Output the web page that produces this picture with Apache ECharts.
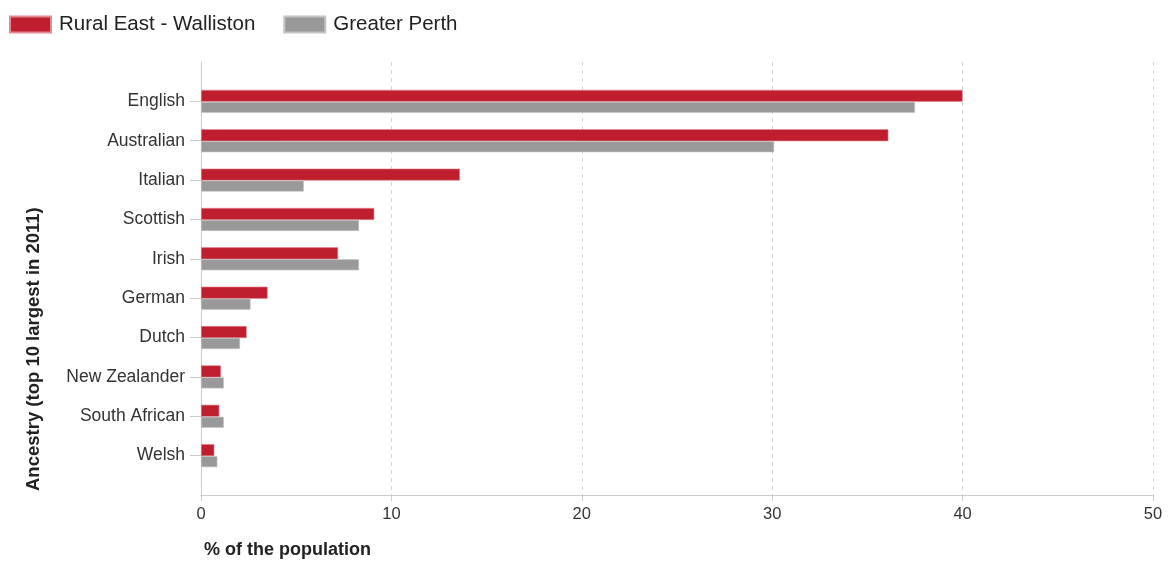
<!DOCTYPE html>
<html>
<head>
<meta charset="utf-8">
<script src="https://cdn.jsdelivr.net/npm/echarts@6/dist/echarts.min.js"></script>
<style>
    html, body { margin: 0; padding: 0; background: #fff; }
    #chart { width: 1170px; height: 563px; }
</style>
</head>
<body>
<div id="chart"></div>
<script>
//数据
var ancestry = ['English', 'Australian', 'Italian', 'Scottish', 'Irish', 'German', 'Dutch', 'New Zealander', 'South African', 'Welsh'];
var walliston = [40.0, 36.1, 13.6, 9.1, 7.2, 3.5, 2.4, 1.05, 0.96, 0.70];
var perth = [37.5, 30.1, 5.4, 8.3, 8.3, 2.6, 2.05, 1.2, 1.2, 0.86];
var xTicks = [0, 10, 20, 30, 40, 50];

//上下各留一个空类目, 让刻度和图上一样
var cats = [''].concat(ancestry).concat(['']);
function pad(arr) {
    return [null].concat(arr).concat([null]);
}

var fontName = '"Liberation Sans", Arial, sans-serif';
var chartObj = echarts.init(document.getElementById('chart'));
var option = {
    animation: false,
    textStyle: {fontFamily: fontName},
    legend: {
        left: 9,
        top: 14,
        padding: 0,
        icon: 'rect',
        itemWidth: 41,
        itemHeight: 16,
        itemGap: 28,
        textStyle: {fontSize: 20.5, color: '#222', fontFamily: fontName, padding: [0, 0, 0, 3]},
        data: ['Rural East - Walliston', 'Greater Perth']
    },
    grid: {
        left: 201,
        right: 17,
        top: 62,
        bottom: 68
    },
    xAxis: {
        type: 'value',
        min: xTicks[0],
        max: xTicks[xTicks.length - 1],
        interval: 10,
        axisLine: {show: true, lineStyle: {color: '#ccc'}},
        axisTick: {show: true, length: 6, lineStyle: {color: '#ccc'}},
        axisLabel: {fontSize: 16.5, color: '#333', margin: 11, fontFamily: fontName},
        splitLine: {show: true, lineStyle: {color: '#d4d4d4', type: [4, 4]}}
    },
    yAxis: {
        type: 'category',
        inverse: true,
        boundaryGap: false,
        data: cats,
        axisLine: {show: true, lineStyle: {color: '#ccc'}},
        axisTick: {
            show: true,
            length: 11,
            lineStyle: {color: '#ccc'},
            interval: function (index, value) {
                return value !== '';
            }
        },
        axisLabel: {fontSize: 17.5, color: '#333', margin: 16, fontFamily: fontName},
        splitLine: {show: false}
    },
    graphic: [
        {
            type: 'text',
            left: 204,
            top: 541,
            style: {text: '% of the population', fill: '#222', font: 'bold 18px "Liberation Sans", Arial, sans-serif'}
        },
        {
            type: 'text',
            x: 24,
            y: 491,
            rotation: Math.PI / 2,
            style: {text: 'Ancestry (top 10 largest in 2011)', fill: '#222', font: 'bold 18.5px "Liberation Sans", Arial, sans-serif'}
        }
    ],
    series: [
        {
            name: 'Rural East - Walliston',
            type: 'bar',
            data: pad(walliston),
            barWidth: 12,
            barGap: '0%',
            itemStyle: {color: '#be1e2d', borderColor: '#e08a92', borderWidth: 0.6}
        },
        {
            name: 'Greater Perth',
            type: 'bar',
            data: pad(perth),
            barWidth: 11,
            barGap: '0%',
            itemStyle: {color: '#999999', borderColor: '#c4c4c4', borderWidth: 0.6}
        }
    ]
};
chartObj.setOption(option);
</script>
</body>
</html>
